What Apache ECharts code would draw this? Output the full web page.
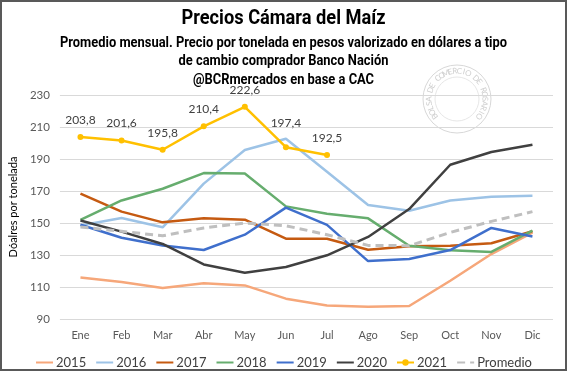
<!DOCTYPE html>
<html>
<head>
<meta charset="utf-8">
<script src="https://cdn.jsdelivr.net/npm/echarts@6/dist/echarts.min.js"></script>
<style>
html,body{margin:0;padding:0;background:#fff;}
#c{width:567px;height:371px;}
</style>
</head>
<body>
<div id="c"></div>
<script>
const months = ['Ene','Feb','Mar','Abr','May','Jun','Jul','Ago','Sep','Oct','Nov','Dic'];
const yTicks = [90,110,130,150,170,190,210,230];
const s2015 = [116.0,113.1,109.4,112.3,111.0,102.7,98.5,97.7,98.1,113.9,130.6,144.0];
const s2016 = [148.5,153.1,147.3,174.6,195.6,202.7,182.0,161.2,157.7,164.1,166.4,167.0];
const s2017 = [168.3,157.1,150.4,152.9,152.1,140.2,140.2,133.3,135.4,135.8,137.3,144.8];
const s2018 = [152.0,164.1,171.4,181.2,181.0,160.4,155.8,152.9,135.8,132.9,131.9,145.2];
const s2019 = [148.9,140.8,136.0,133.1,142.7,159.6,148.8,126.2,127.5,133.1,146.9,141.6];
const s2020 = [151.6,144.6,136.9,124.1,118.9,122.5,129.8,141.3,158.7,186.4,194.4,198.9];
const s2021 = [203.8,201.6,195.8,210.4,222.6,197.4,192.5];
const sProm = [147.5,144.8,142.0,146.9,150.0,148.3,142.7,136.0,135.8,144.1,151.0,157.1];
const legendNames = ['2015','2016','2017','2018','2019','2020','2021','Promedio'];

const titleText = 'Precios Cámara del Maíz';
const subLines = [
  'Promedio mensual. Precio por tonelada en pesos valorizado en dólares a tipo',
  'de cambio comprador Banco Nación',
  '@BCRmercados en base a CAC'
];

const FONT = 'Lato, "Liberation Sans", sans-serif';
const TFONT = 'Roboto, "Liberation Sans", sans-serif';

const mctx = document.createElement('canvas').getContext('2d');
function fitScale(text, font, target) {
  mctx.font = font;
  return target / mctx.measureText(text).width;
}

function line(name, data, color, extra) {
  return Object.assign({
    name: name, type: 'line', data: data, symbol: 'none',
    lineStyle: {color: color, width: 2.5}, itemStyle: {color: color},
    z: 2
  }, extra || {});
}

// title graphics
const gfx = [];
const tFont = 'bold 20px ' + TFONT;
gfx.push({type:'text', silent:true, x:283.5, y:19, scaleX: fitScale(titleText, tFont, 204),
  style:{text:titleText, font:tFont, fill:'#000', align:'center', verticalAlign:'middle'}});
const sFont = 'bold 14px ' + TFONT;
const sY = [43, 61.5, 80];
const sScale = fitScale(subLines[0], sFont, 447);
subLines.forEach((t, i) => {
  gfx.push({type:'text', silent:true, x:283.5, y:sY[i], scaleX: sScale,
    style:{text:t, font:sFont, fill:'#000', align:'center', verticalAlign:'middle'}});
});

// watermark
const wmText = 'BOLSA DE COMERCIO DE ROSARIO';
const cx = 457, cy = 99, r = 28;
const a0 = 218, a1 = -38;
for (let i = 0; i < wmText.length; i++) {
  const ang = (a0 + (a1 - a0) * i / (wmText.length - 1)) * Math.PI / 180;
  gfx.push({
    type: 'text', silent: true, z: 0,
    x: cx + r * Math.cos(ang), y: cy - r * Math.sin(ang),
    rotation: ang - Math.PI / 2,
    style: {text: wmText[i], fill: '#cfcfcf', font: '8px ' + FONT, align: 'center', verticalAlign: 'middle'}
  });
}
gfx.push({type:'circle', silent:true, z:0, shape:{cx:cx, cy:cy, r:34}, style:{fill:'none', stroke:'#d8d8d8', lineWidth:1}});
gfx.push({type:'circle', silent:true, z:0, shape:{cx:cx, cy:cy, r:22}, style:{fill:'none', stroke:'#e0e0e0', lineWidth:0.8}});
gfx.push({type:'rect', silent:true, z:100, shape:{x:1, y:1, width:565, height:369}, style:{fill:'none', stroke:'#595959', lineWidth:2}});

const chart = echarts.init(document.getElementById('c'));
chart.setOption({
  animation: false,
  backgroundColor: '#fff',
  graphic: gfx,
  legend: {
    left: 'center', top: 351, itemWidth: 17, itemHeight: 8, itemGap: 9,
    textStyle: {fontFamily: FONT, fontSize: 13, color: '#404040', padding: [0,0,0,-2]},
    data: legendNames.map(n => n === '2021' ? {name: n} : {name: n, itemStyle: {opacity: 0}})
  },
  grid: {left: 57, right: 14, top: 95, bottom: 52},
  xAxis: {
    type: 'category', data: months, boundaryGap: true,
    axisLine: {show: false}, axisTick: {show: false},
    axisLabel: {fontFamily: FONT, fontSize: 11, color: '#595959', margin: 11}
  },
  yAxis: {
    type: 'value', min: yTicks[0], max: yTicks[yTicks.length-1], interval: 20,
    name: 'Dóalres por tonelada', nameLocation: 'middle', nameGap: 29, nameRotate: 90,
    nameTextStyle: {fontFamily: FONT, fontSize: 11, color: '#000'},
    axisLine: {show: false}, axisTick: {show: false},
    axisLabel: {fontFamily: FONT, fontSize: 11.5, color: '#595959', margin: 10},
    splitLine: {lineStyle: {color: '#d9d9d9', width: 1}}
  },
  series: [
    line('2015', s2015, '#F6A77A'),
    line('2016', s2016, '#9DC3E6'),
    line('2017', s2017, '#C55A11'),
    line('2018', s2018, '#66AD6E'),
    line('2019', s2019, '#3F6FCC'),
    line('2020', s2020, '#404040'),
    line('2021', s2021, '#FFC000', {
      symbol: 'circle', symbolSize: 6, z: 4,
      label: {show: true, position: 'top', distance: 8, fontFamily: FONT, fontSize: 12, color: '#404040',
        formatter: p => p.value.toFixed(1).replace('.', ',')},
      labelLayout: p => p.dataIndex === 5 ? {dy: -7} : {}
    }),
    line('Promedio', sProm, '#BFBFBF', {lineStyle: {color: '#BFBFBF', width: 3, type: [8,5]}, z: 3})
  ]
});
</script>
</body>
</html>
